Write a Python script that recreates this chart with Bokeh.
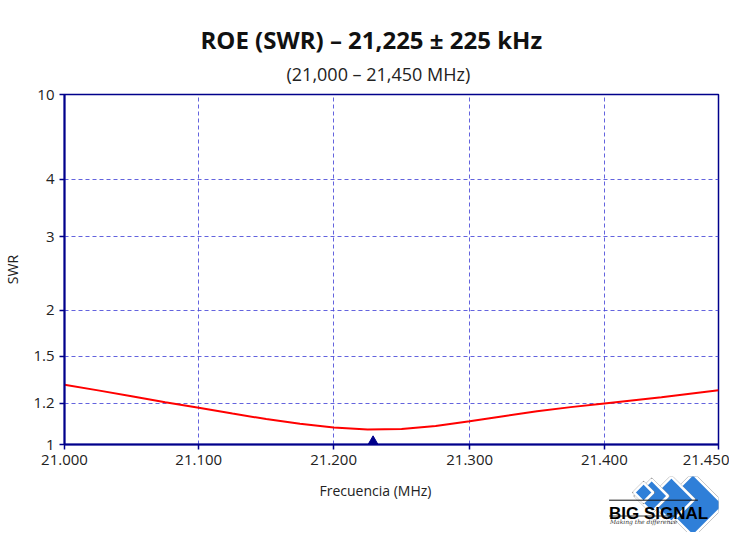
import numpy as np
from bokeh.plotting import figure
from bokeh.layouts import column
from bokeh.models import FixedTicker, Range1d, Title
from bokeh.core.properties import value
from bokeh.embed import file_html
from bokeh.resources import INLINE

# ---- data ----
freq_mhz = [21.000, 21.025, 21.050, 21.075, 21.100, 21.125, 21.150, 21.175,
            21.200, 21.225, 21.250, 21.275, 21.300, 21.325, 21.350, 21.375,
            21.400, 21.425, 21.450]
swr = [1.318, 1.282, 1.244, 1.206, 1.178, 1.150, 1.123, 1.100,
       1.082, 1.073, 1.075, 1.090, 1.113, 1.137, 1.161, 1.181,
       1.199, 1.238, 1.283]
marker_freq = [21.229]
marker_swr = [1.0]

x_tick_values = [21.0, 21.1, 21.2, 21.3, 21.4, 21.45]
x_tick_labels = ["21.000", "21.100", "21.200", "21.300", "21.400", "21.450"]
y_tick_values = [1, 1.2, 1.5, 2, 3, 4, 10]
y_tick_labels = ["1", "1.2", "1.5", "2", "3", "4", "10"]

# axis scale definitions: fraction of axis length at which each tick sits
x_scale_frac = [0.0, 0.2053, 0.4115, 0.6195, 0.8255, 1.0]
y_scale_frac = [0.0, 0.118, 0.252, 0.384, 0.594, 0.758, 1.0]

# logo geometry (logo strip units)
logo_diamond_x = [700.5, 676.5, 654.5, 645.5]
logo_diamond_y = [28.5, 23.0, 19.5, 16.0]
logo_diamond_size = [44.0, 32.0, 23.0, 13.5]


def fx(f):
    return np.round(np.interp(f, x_tick_values, x_scale_frac), 6)


def fy(s):
    return np.round(np.interp(s, y_tick_values, y_scale_frac), 6)


NAVY = "#00008b"
FONT = "Open Sans"
TXT = "#222222"

p = figure(width=729, height=532, output_backend="svg", toolbar_location=None,
           title=None, x_range=Range1d(0, 1), y_range=Range1d(0, 1),
           min_border_left=63, min_border_right=11, min_border_top=94,
           min_border_bottom=88)
p.background_fill_color = "white"
p.border_fill_color = "white"
p.outline_line_color = NAVY
p.outline_line_width = 1.5

xt = [float(v) for v in fx(x_tick_values)]
yt = [float(v) for v in fy(y_tick_values)]
p.xaxis.ticker = FixedTicker(ticks=xt)
p.yaxis.ticker = FixedTicker(ticks=yt)
p.xgrid.ticker = FixedTicker(ticks=xt)
p.ygrid.ticker = FixedTicker(ticks=yt)
p.xaxis.major_label_overrides = {k: v for k, v in zip(xt, x_tick_labels)}
p.yaxis.major_label_overrides = {k: v for k, v in zip(yt, y_tick_labels)}

for ax in (p.xaxis, p.yaxis):
    ax.axis_line_color = NAVY
    ax.axis_line_width = 2
    ax.major_tick_line_color = NAVY
    ax.major_tick_line_width = 1.5
    ax.major_tick_out = 5
    ax.major_tick_in = 0
    ax.minor_tick_line_color = None
    ax.major_label_text_font = FONT
    ax.major_label_text_font_size = "15px"
    ax.major_label_text_color = TXT
    ax.major_label_standoff = 5

p.yaxis.axis_label = "SWR"
p.yaxis.axis_label_text_font = FONT
p.yaxis.axis_label_text_font_size = "14px"
p.yaxis.axis_label_text_font_style = "normal"
p.yaxis.axis_label_text_color = TXT
p.yaxis.axis_label_standoff = 8

for g in (p.xgrid, p.ygrid):
    g.grid_line_color = "#4848d8"
    g.grid_line_alpha = 0.85
    g.grid_line_width = 1
    g.grid_line_dash = "4 3"

p.line(fx(freq_mhz), fy(swr), line_color="#ff0000", line_width=2)
p.scatter(fx(marker_freq), fy(marker_swr), marker="triangle", size=15,
          fill_color=NAVY, line_color=NAVY)

# titles
p.add_layout(Title(text="(21,000 \u2013 21,450 MHz)", align="left", offset=222,
                   standoff=18, text_font=FONT, text_font_size="18px",
                   text_font_style="normal", text_color=TXT), "above")
p.add_layout(Title(text="ROE (SWR) \u2013 21,225 \u00B1 225 kHz", align="left",
                   offset=136, standoff=-10, text_font=FONT, text_font_size="24px",
                   text_font_style="bold", text_color="#111111"), "above")
p.add_layout(Title(text="Frecuencia (MHz)", align="left", offset=255, standoff=22,
                   text_font=FONT, text_font_size="14px", text_font_style="normal",
                   text_color=TXT), "below")

# ---- logo, drawn in a transparent strip laid over the bottom of the chart ----
logo = figure(width=729, height=56, output_backend="svg", toolbar_location=None,
              title=None, x_range=Range1d(0, 729), y_range=Range1d(56, 0),
              x_axis_type=None, y_axis_type=None,
              min_border=0, min_border_left=0, min_border_right=0,
              min_border_top=0, min_border_bottom=0, margin=(-56, 0, 0, 0))
logo.background_fill_color = None
logo.border_fill_color = None
logo.outline_line_color = None
for i in range(len(logo_diamond_x)):
    xs, ys, sz = [logo_diamond_x[i]], [logo_diamond_y[i]], logo_diamond_size[i]
    logo.scatter(xs, ys, marker="square", angle=np.pi / 4, size=sz + 3,
                 fill_color="#8c8c8c", line_color=None)
    logo.scatter(xs, ys, marker="square", angle=np.pi / 4, size=sz,
                 fill_color="#2f7fd8", line_color="white", line_width=2.5)
logo.segment(x0=[607], y0=[23.7], x1=[706], y1=[23.7], line_color="#111111", line_width=1)
logo.text([607], [37.2], text=["BIG SIGNAL"], text_align="left",
          text_baseline="alphabetic", text_font=value("Liberation Sans"),
          text_font_size="17px", text_font_style="bold", text_color="#000000")
logo.segment(x0=[607], y0=[39.5], x1=[680], y1=[39.5], line_color="#111111", line_width=0.8)
logo.text([608], [45], text=["Making the difference"], text_align="left",
          text_baseline="alphabetic", text_font=value("DejaVu Serif"),
          text_font_size="6px", text_font_style="italic", text_color="#333333")

layout = column(p, logo, spacing=0)
open("out.html", "w").write(file_html(layout, INLINE))
